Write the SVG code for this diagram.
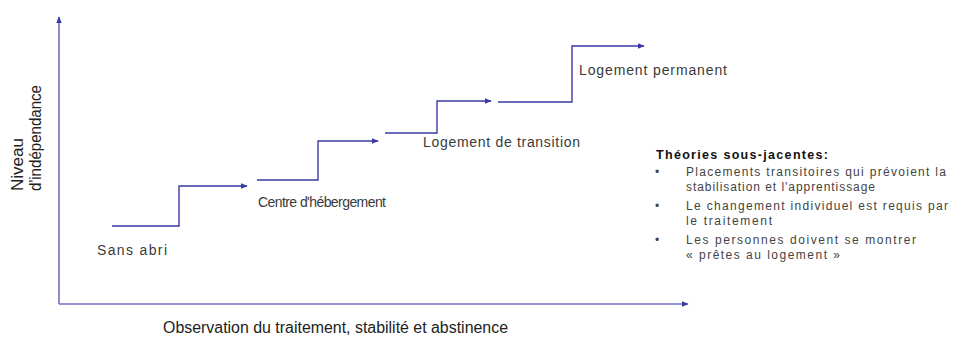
<svg xmlns="http://www.w3.org/2000/svg" width="953" height="342" viewBox="0 0 953 342">
<style>
text{font-family:"Liberation Sans",Arial,sans-serif;fill:#3a3a3a;}
.lbl{font-size:14px;}
.ax{font-size:16px;fill:#222;}
.th{font-size:12px;fill:#444;}
.tt{font-size:12.5px;font-weight:bold;fill:#111;}
.step{fill:none;stroke:#3a3aa6;stroke-width:1.4;}
.axis{fill:none;stroke:#7070c4;stroke-width:1.6;}
</style>
<defs>
<marker id="ah" viewBox="0 0 10 10" refX="9" refY="5" markerWidth="7" markerHeight="7" markerUnits="userSpaceOnUse" orient="auto">
<path d="M0,1 L10,5 L0,9 z" fill="#3a3aa6"/>
</marker>
</defs>
<rect width="953" height="342" fill="#fff"/>
<g id="connectors">
<path class="axis" d="M59,304 V17" marker-end="url(#ah)"/>
<path class="axis" d="M59,304 H688" marker-end="url(#ah)"/>
<path class="step" d="M112,226 H179 V186 H247" marker-end="url(#ah)"/>
<path class="step" d="M257,180 H318 V141 H378" marker-end="url(#ah)"/>
<path class="step" d="M385,133 H437 V101 H491" marker-end="url(#ah)"/>
<path class="step" d="M498,102 H572 V46 H644" marker-end="url(#ah)"/>
</g>
<g id="axis-y-label">
<text class="ax" transform="translate(23,191) rotate(-90)" textLength="53" lengthAdjust="spacingAndGlyphs">Niveau</text>
<text class="ax" transform="translate(41,191) rotate(-90)" textLength="106" lengthAdjust="spacingAndGlyphs">d'indépendance</text>
</g>
<g id="axis-x-label">
<text class="ax" x="163" y="333" textLength="345" lengthAdjust="spacingAndGlyphs">Observation du traitement, stabilité et abstinence</text>
</g>
<g id="sans-abri"><text class="lbl" x="97" y="255" textLength="70" lengthAdjust="spacing">Sans abri</text></g>
<g id="centre-hebergement"><text class="lbl" x="258" y="207" textLength="128" lengthAdjust="spacing">Centre d'hébergement</text></g>
<g id="logement-transition"><text class="lbl" x="423" y="147" textLength="157" lengthAdjust="spacing">Logement de transition</text></g>
<g id="logement-permanent"><text class="lbl" x="579" y="75" textLength="148" lengthAdjust="spacing">Logement permanent</text></g>
<g id="theories">
<text class="tt" x="656" y="159" textLength="172" lengthAdjust="spacing">Théories sous-jacentes:</text>
<text class="th" x="655" y="176">•</text>
<text class="th" x="686" y="176" textLength="260" lengthAdjust="spacing">Placements transitoires qui prévoient la</text>
<text class="th" x="686" y="191" textLength="189" lengthAdjust="spacing">stabilisation et l'apprentissage</text>
<text class="th" x="655" y="210">•</text>
<text class="th" x="686" y="210" textLength="262" lengthAdjust="spacing">Le changement individuel est requis par</text>
<text class="th" x="686" y="225" textLength="86" lengthAdjust="spacing">le traitement</text>
<text class="th" x="655" y="244">•</text>
<text class="th" x="686" y="244" textLength="230" lengthAdjust="spacing">Les personnes doivent se montrer</text>
<text class="th" x="686" y="259" textLength="154" lengthAdjust="spacing">« prêtes au logement »</text>
</g>
</svg>
